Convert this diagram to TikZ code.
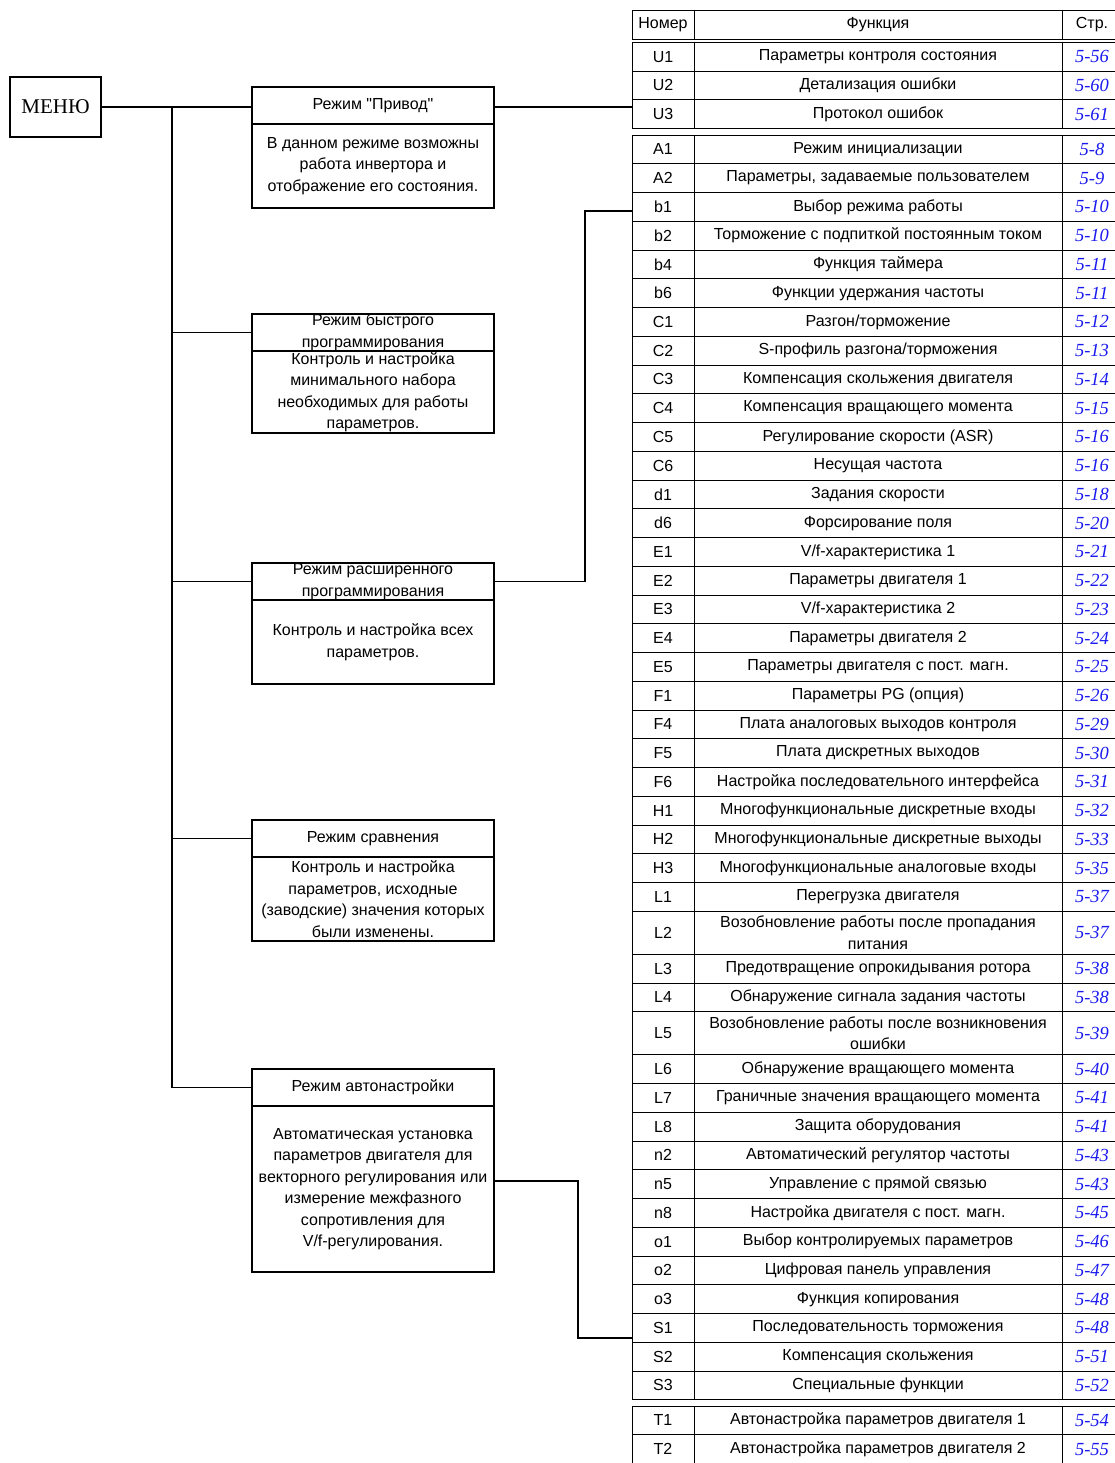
\documentclass[tikz,border=0pt]{standalone}
\usepackage{fontspec}
\setmainfont{Liberation Sans}[Ligatures=TeXOff]
\newfontfamily\tnr{Liberation Serif}
\usepackage{xcolor}
\usepackage{tikz}
\usetikzlibrary{positioning}

\definecolor{pageblue}{RGB}{25,25,240}

\tikzset{
  every node/.style={font=\fontsize{16}{21.5}\selectfont},
  cell/.style={draw, line width=0.9pt, inner sep=0pt, outer sep=0pt, anchor=north west, align=center},
  pagecell/.style={font=\tnr\itshape\fontsize{18.5}{21}\selectfont, text=pageblue},
  modetitle/.style={draw, line width=1.6pt, minimum width=242pt, minimum height=37pt, inner sep=0pt, outer sep=0pt, align=center, anchor=north west},
  modedesc/.style={draw, line width=1.6pt, minimum width=242pt, inner sep=0pt, outer sep=0pt, align=center},
  conn/.style={line width=1.7pt}
}

% one row of the function table, \ytop is the top edge
\newcommand{\funcrow}[4]{%
  \node[cell, minimum width=62pt, minimum height=#4pt] (#1) at (632,\ytop) {#1};
  \node[cell, minimum width=368pt, minimum height=#4pt] at (694,\ytop) {#2};
  \node[cell, pagecell, minimum width=60pt, minimum height=#4pt] at (1062,\ytop) {#3};
  \pgfmathsetmacro\ynext{\ytop+#4}%
  \global\let\ytop\ynext
}

\begin{document}
\begin{tikzpicture}[x=1pt,y=-1pt]
\useasboundingbox (0,0) rectangle (1114,1463);

% menu and modes
\node[draw, line width=1.6pt, minimum width=91pt, minimum height=60pt, outer sep=0pt, anchor=north west,
  font=\tnr\fontsize{21}{24}\selectfont] (menu) at (10,77) {МЕНЮ};

\node[modetitle] (box1t) at (252,87) {Режим "Привод"};
\node[modedesc, minimum height=84pt, below=0pt of box1t] (box1d)
  {В данном режиме возможны\\работа инвертора и\\отображение его состояния.};

\node[modetitle] (box2t) at (252,314) {Режим быстрого\\программирования};
\node[modedesc, minimum height=82pt, below=0pt of box2t] (box2d)
  {Контроль и настройка\\минимального набора\\необходимых для работы\\параметров.};

\node[modetitle] (box3t) at (252,563) {Режим расширенного\\программирования};
\node[modedesc, minimum height=84pt, below=0pt of box3t] (box3d)
  {Контроль и настройка всех\\параметров.};

\node[modetitle] (box4t) at (252,820) {Режим сравнения};
\node[modedesc, minimum height=84pt, below=0pt of box4t] (box4d)
  {Контроль и настройка\\параметров, исходные\\(заводские) значения которых\\были изменены.};

\node[modetitle] (box5t) at (252,1069) {Режим автонастройки};
\node[modedesc, minimum height=166pt, below=0pt of box5t] (box5d)
  {Автоматическая установка\\параметров двигателя для\\векторного регулирования или\\измерение межфазного\\сопротивления для\\V/f-регулирования.};

% table header
\node[cell, minimum width=62pt, minimum height=29.5pt] (hnum) at (632,10) {Номер};
\node[cell, minimum width=368pt, minimum height=29.5pt] (hfunc) at (694,10) {Функция};
\node[cell, minimum width=60pt, minimum height=29.5pt] (hpage) at (1062,10) {Стр.};

% table rows
\def\ytop{42.5}
\foreach \c/\f/\p in {U1/{Параметры контроля состояния}/5-56, U2/{Детализация ошибки}/5-60,
  U3/{Протокол ошибок}/5-61}
  {\funcrow{\c}{\f}{\p}{28.6}}

\gdef\ytop{135}
\foreach \c/\f/\p/\h in {A1/{Режим инициализации}/5-8/28.75,
  A2/{Параметры, задаваемые пользователем}/5-9/28.75,
  b1/{Выбор режима работы}/5-10/28.75,
  b2/{Торможение с подпиткой постоянным током}/5-10/28.75,
  b4/{Функция таймера}/5-11/28.75,
  b6/{Функции удержания частоты}/5-11/28.75,
  C1/{Разгон/торможение}/5-12/28.75,
  C2/{S-профиль разгона/торможения}/5-13/28.75,
  C3/{Компенсация скольжения двигателя}/5-14/28.75,
  C4/{Компенсация вращающего момента}/5-15/28.75,
  C5/{Регулирование скорости (ASR)}/5-16/28.75,
  C6/{Несущая частота}/5-16/28.75,
  d1/{Задания скорости}/5-18/28.75,
  d6/{Форсирование поля}/5-20/28.75,
  E1/{V/f-характеристика 1}/5-21/28.75,
  E2/{Параметры двигателя 1}/5-22/28.75,
  E3/{V/f-характеристика 2}/5-23/28.75,
  E4/{Параметры двигателя 2}/5-24/28.75,
  E5/{Параметры двигателя с пост. магн.}/5-25/28.75,
  F1/{Параметры PG (опция)}/5-26/28.75,
  F4/{Плата аналоговых выходов контроля}/5-29/28.75,
  F5/{Плата дискретных выходов}/5-30/28.75,
  F6/{Настройка последовательного интерфейса}/5-31/28.75,
  H1/{Многофункциональные дискретные входы}/5-32/28.75,
  H2/{Многофункциональные дискретные выходы}/5-33/28.75,
  H3/{Многофункциональные аналоговые входы}/5-35/28.75,
  L1/{Перегрузка двигателя}/5-37/28.75,
  L2/{Возобновление работы после пропадания\\питания}/5-37/43,
  L3/{Предотвращение опрокидывания ротора}/5-38/28.75,
  L4/{Обнаружение сигнала задания частоты}/5-38/28.75,
  L5/{Возобновление работы после возникновения\\ошибки}/5-39/43,
  L6/{Обнаружение вращающего момента}/5-40/28.75,
  L7/{Граничные значения вращающего момента}/5-41/28.75,
  L8/{Защита оборудования}/5-41/28.75,
  n2/{Автоматический регулятор частоты}/5-43/28.75,
  n5/{Управление с прямой связью}/5-43/28.75,
  n8/{Настройка двигателя с пост. магн.}/5-45/28.75,
  o1/{Выбор контролируемых параметров}/5-46/28.75,
  o2/{Цифровая панель управления}/5-47/28.75,
  o3/{Функция копирования}/5-48/28.75,
  S1/{Последовательность торможения}/5-48/28.75,
  S2/{Компенсация скольжения}/5-51/28.75,
  S3/{Специальные функции}/5-52/28.75}
  {\funcrow{\c}{\f}{\p}{\h}}

\gdef\ytop{1406}
\foreach \c/\f/\p in {T1/{Автонастройка параметров двигателя 1}/5-54,
  T2/{Автонастройка параметров двигателя 2}/5-55}
  {\funcrow{\c}{\f}{\p}{28.75}}

% connectors
\coordinate (trunk) at (172,107);
\draw[conn] (menu.east) -- (menu.east -| box1t.west);
\draw[conn] (trunk) |- (box5t.west);
\foreach \b in {box2t,box3t,box4t}
  \draw[conn] (trunk |- \b.west) -- (\b.west);
\draw[conn] ([yshift=-1.5pt]box1t.east) -- ([yshift=-1.5pt]box1t.east -| U3.west);
\draw[conn] (box3t.east) -- ++(91,0) |- ([yshift=-4pt]b1.west);
\draw[conn] ([yshift=8pt]box5d.east) -- ++(84,0) |- ([yshift=-10pt]S1.west);
\end{tikzpicture}
\end{document}
